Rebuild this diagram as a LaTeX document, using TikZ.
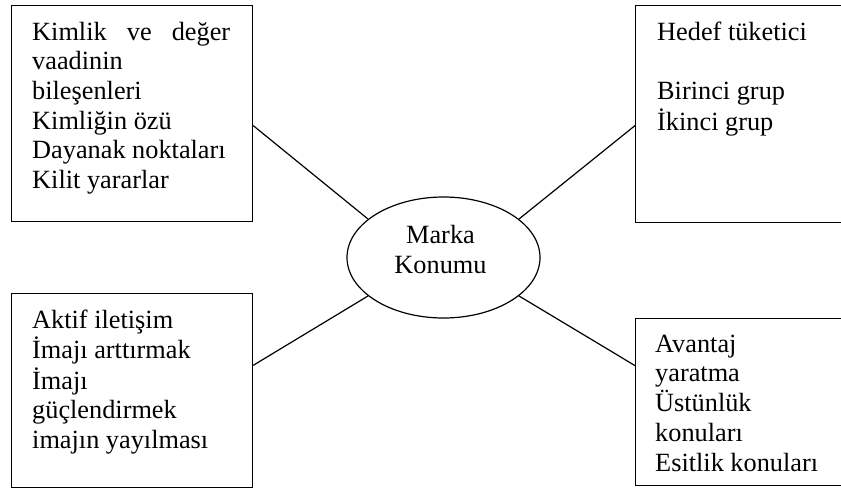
\documentclass[tikz,border=0pt]{standalone}
\usepackage{fontspec}
\setmainfont{Liberation Serif}
\usetikzlibrary{shapes.geometric,calc}
\newcommand{\boxtext}[1]{\fontsize{26.3}{29.7}\selectfont\begin{tabular}[t]{@{}l@{}}#1\end{tabular}}
\newcommand{\midtext}[1]{\fontsize{26.3}{29.5}\selectfont\begin{tabular}{@{}c@{}}#1\end{tabular}}
\begin{document}
\begin{tikzpicture}[x=1pt,y=-1pt,
  box/.style={draw,line width=1.2pt,rectangle,inner sep=0pt,anchor=north west},
  txt/.style={anchor=base west,inner sep=0pt},
  conn/.style={draw,line width=1.2pt}]
\useasboundingbox (0,0) rectangle (841,488);
\node[box,minimum width=241pt,minimum height=216pt] (tl) at (11,5) {};
\node[box,minimum width=215pt,minimum height=217pt] (tr) at (635,5) {};
\node[box,minimum width=241pt,minimum height=193.5pt] (bl) at (11,293) {};
\node[box,minimum width=215pt,minimum height=167pt] (br) at (635,318) {};
\node[draw,line width=1.2pt,ellipse,inner sep=0pt,minimum width=193pt,minimum height=121pt] (ell) at (443.5,257.5) {};
\node[inner sep=0pt] (elltext) at ($(ell.center)+(-3,-5)$) {\midtext{Marka\\Konumu}};
\node[txt] (tltext) at (32,40) {\boxtext{\makebox[198pt][s]{Kimlik ve değer}\\vaadinin\\bileşenleri\\Kimliğin özü\\Dayanak noktaları\\Kilit yararlar}};
\node[txt] (trtext) at (657,40) {\boxtext{Hedef tüketici\\ \\Birinci grup\\İkinci grup}};
\node[txt] (bltext) at (32,328) {\boxtext{Aktif iletişim\\İmajı arttırmak\\İmajı\\güçlendirmek\\imajın yayılması}};
\node[txt] (brtext) at (655,352) {\boxtext{Avantaj\\yaratma\\Üstünlük\\konuları\\Esitlik konuları}};
\draw[conn] ($(tl.east)+(0,12)$) -- (ell.153);
\draw[conn] (ell.27) -- ($(tr.west)+(0,11.5)$);
\draw[conn] ($(bl.east)+(0,-25)$) -- (ell.207);
\draw[conn] (ell.333) -- ($(br.west)+(0,-36.5)$);
\end{tikzpicture}
\end{document}
